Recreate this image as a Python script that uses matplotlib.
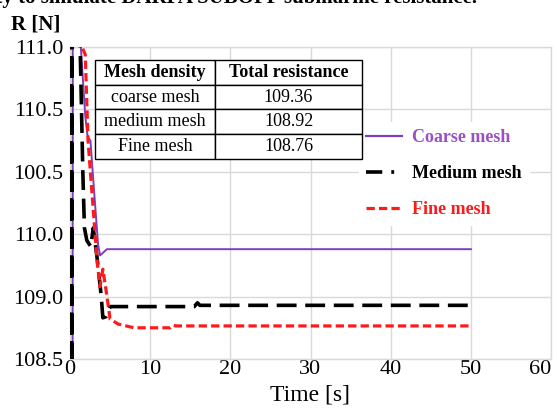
import matplotlib
matplotlib.use("Agg")
import matplotlib.pyplot as plt
from matplotlib.lines import Line2D

plt.rcParams['font.family'] = ['Liberation Serif', 'DejaVu Serif']

# ---------------- data ----------------
coarse_t = [0.30, 0.36, 1.30, 1.90, 2.20, 2.55, 3.00, 3.50, 3.75, 4.10, 4.60, 5.50, 50.0]
coarse_v = [105.0, 113.0, 111.05, 110.45, 110.28, 110.25, 109.85, 109.42, 109.33, 109.35, 109.38, 109.38, 109.38]

medium_t = [0.05, 0.08, 0.11, 0.14, 0.17, 0.20, 0.23, 0.26, 1.20, 1.60, 1.80, 2.10, 2.60, 2.90, 3.40, 3.90, 4.10,
            4.50, 5.00, 15.5, 15.9, 16.2, 50.0]
medium_v = [104.0, 116.0, 104.7, 115.3, 105.3, 114.6, 106.1, 113.8, 111.2, 110.0, 109.55, 109.45, 109.40, 109.55,
            109.30, 109.00, 108.83, 108.84, 108.92, 108.92, 108.95, 108.93, 108.93]

fine_t = [1.20, 1.50, 1.90, 2.25, 3.40, 3.75, 4.10, 4.50, 5.00, 6.00, 8.00, 12.5, 12.8, 13.2, 50.0]
fine_v = [111.6, 111.0, 110.94, 110.25, 109.27, 109.08, 109.22, 109.05, 108.82, 108.78, 108.75,
          108.75, 108.77, 108.765, 108.765]

yticks = [108.5, 109.0, 109.5, 110.0, 110.5, 111.0]
ytick_labels = ['108.5', '109.0', '110.0', '100.5', '110.5', '111.0']
xticks = [0, 10, 20, 30, 40, 50, 60]

table_header = ['Mesh density', 'Total resistance']
table_mesh = ['coarse mesh', 'medium mesh', 'Fine mesh']
table_res = ['109.36', '108.92', '108.76']

legend_names = ['Coarse mesh', 'Medium mesh', 'Fine mesh']

# ---------------- figure ----------------
fig = plt.figure(figsize=(5.58, 4.19), dpi=100)
ax = fig.add_axes([70/558, 1-359/419, 481/558, 312/419])

purple = '#7B3FBF'
ax.plot(coarse_t, coarse_v, color=purple, lw=1.4, zorder=3)
ax.plot(medium_t, medium_v, color='black', lw=2.6, dashes=(5.5, 2.4), zorder=3)
ax.plot(fine_t, fine_v, color='#FF1A1A', lw=2.3, dashes=(2.6, 1.3), zorder=4)

ax.set_xlim(0, 60)
ax.set_ylim(108.5, 111.0)
ax.set_xticks(xticks)
ax.set_yticks(yticks)
ax.set_yticklabels(ytick_labels)
ax.tick_params(axis='both', length=0, labelsize=16, colors='black')
ax.tick_params(axis='x', pad=1)
ax.tick_params(axis='y', pad=5)
xl = ax.get_xticklabels()
xl[-1].set_horizontalalignment('right')
ax.grid(True, color='#D9D9D9', lw=1.0)
ax.set_axisbelow(True)
for s in ax.spines.values():
    s.set_color('#D9D9D9')
    s.set_linewidth(1.0)

ax.set_xlabel('Time [s]', fontsize=17, labelpad=4)

fig.text(11/558, 1-29/419, 'R [N]', fontsize=15, fontweight='bold', ha='left', va='baseline')
fig.text(477/558, 1-3/419, 'Mesh density to simulate DARPA SUBOFF submarine resistance.',
         fontsize=15, fontweight='bold', ha='right', va='baseline')

# table
cell_text = [[m, r] for m, r in zip(table_mesh, table_res)]
tb = ax.table(cellText=cell_text, colLabels=table_header,
              bbox=[(95-70)/481, (359-159)/312, (362-95)/481, (159-60)/312],
              colWidths=[0.45, 0.55], cellLoc='center', zorder=5)
tb.auto_set_font_size(False)
for (r, c), cell in tb.get_celld().items():
    cell.set_edgecolor('black')
    cell.set_linewidth(1.0)
    cell.set_facecolor('white')
    cell.get_text().set_fontsize(13)
    if r == 0:
        cell.get_text().set_fontweight('bold')

# legend
handles = [Line2D([], [], color=purple, lw=1.6),
           Line2D([], [], color='black', lw=2.6, dashes=(4.5, 2.5, 0.8, 2.5)),
           Line2D([], [], color='#FF1A1A', lw=2.3, dashes=(2.6, 1.3))]
leg = ax.legend(handles, legend_names, loc='upper left',
                bbox_to_anchor=((350-70)/481, (359-113)/312),
                frameon=True, fancybox=False, framealpha=1.0, edgecolor='white',
                prop={'size': 13, 'weight': 'bold'}, handlelength=2.0,
                handletextpad=0.55, labelspacing=1.05, borderpad=0.4)
leg.set_zorder(4.5)
for txt, col in zip(leg.get_texts(), ['#9B4FC4', 'black', '#FF1A1A']):
    txt.set_color(col)

fig.savefig('out.png', dpi=100)
